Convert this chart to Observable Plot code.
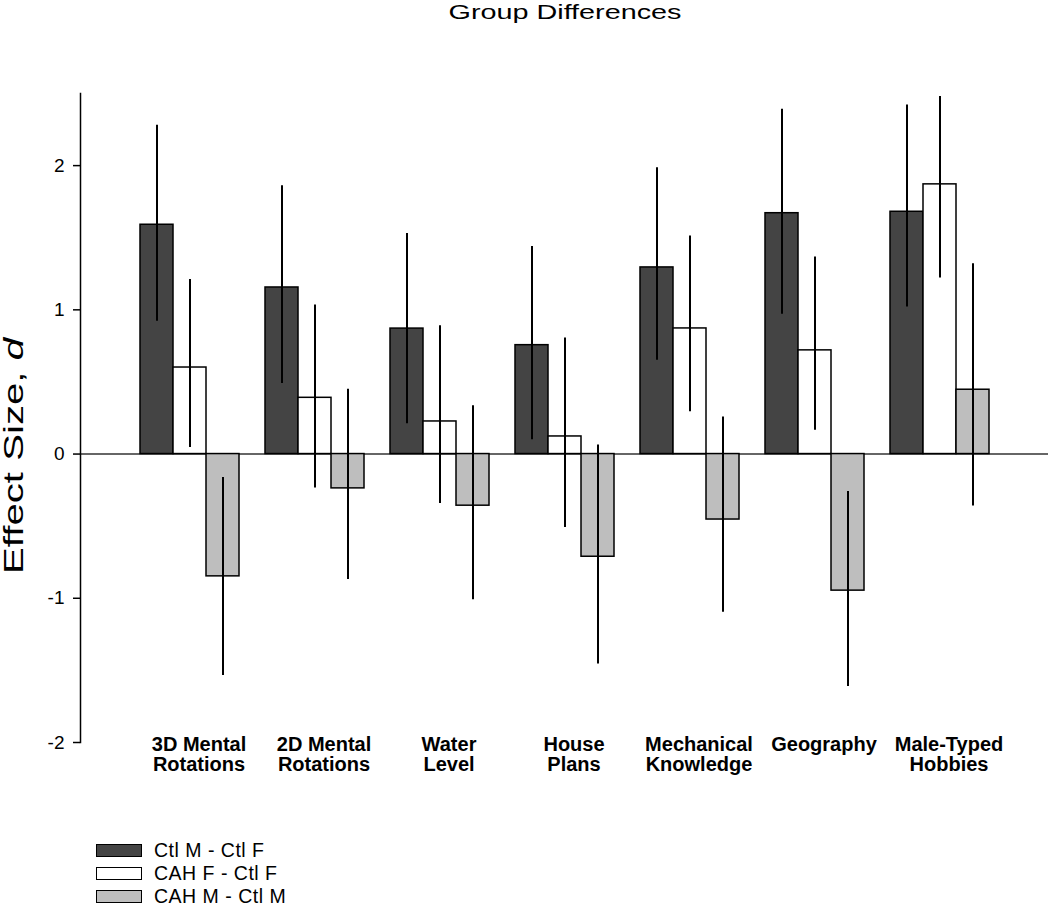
<!DOCTYPE html>
<html>
<head>
<meta charset="utf-8">
<script src="https://cdn.jsdelivr.net/npm/d3@7"></script>
<script src="https://cdn.jsdelivr.net/npm/@observablehq/plot@0.6"></script>
<style>
  body { margin: 0; background: #fff; font-family: "Liberation Sans", Arial, sans-serif; color: #000; }
  #wrap { width: 1050px; position: relative; }
  #title { height: 30px; position: relative; }
  #title span { position: absolute; left: 565px; top: 1px; font-size: 21px; line-height: 21px; white-space: nowrap;
                transform: translateX(-50%) scaleX(1.37); }
  #chart { position: relative; width: 1050px; height: 790px; }
  #chart svg { display: block; position: absolute; left: 0; top: 0; }
  #legend { padding-top: 19px; }
  .row { height: 23px; display: flex; align-items: center; }
  .sw { margin-left: 96px; width: 44px; height: 11px; border: 1.5px solid #000; }
  .lab { margin-left: 12px; font-size: 19.5px; letter-spacing: 0.5px; }
</style>
</head>
<body>
<div id="wrap">
  <div id="title"><span>Group Differences</span></div>
  <div id="chart"></div>
  <div id="legend"></div>
</div>
<script>
// ---- data ----
const categories = ["3D Mental Rotations", "2D Mental Rotations", "Water Level", "House Plans",
                    "Mechanical Knowledge", "Geography", "Male-Typed Hobbies"];
const categoryLabels = ["3D Mental\nRotations", "2D Mental\nRotations", "Water\nLevel", "House\nPlans",
                        "Mechanical\nKnowledge", "Geography", "Male-Typed\nHobbies"];
const series = ["Ctl M - Ctl F", "CAH F - Ctl F", "CAH M - Ctl M"];
const seriesColors = ["#444444", "#ffffff", "#bebebe"];

const ctlM_ctlF    = [1.59, 1.155, 0.87, 0.755, 1.294, 1.67, 1.68];
const ctlM_ctlF_lo = [0.92, 0.49, 0.21, 0.10, 0.65, 0.97, 1.02];
const ctlM_ctlF_hi = [2.28, 1.86, 1.53, 1.44, 1.985, 2.39, 2.42];

const cahF_ctlF    = [0.60, 0.39, 0.226, 0.122, 0.871, 0.719, 1.87];
const cahF_ctlF_lo = [0.046, -0.236, -0.342, -0.509, 0.293, 0.165, 1.22];
const cahF_ctlF_hi = [1.21, 1.033, 0.889, 0.804, 1.512, 1.367, 2.48];

const cahM_ctlM    = [-0.848, -0.238, -0.358, -0.712, -0.454, -0.947, 0.446];
const cahM_ctlM_lo = [-1.536, -0.87, -1.01, -1.455, -1.097, -1.612, -0.36];
const cahM_ctlM_hi = [-0.162, 0.45, 0.335, 0.062, 0.257, -0.26, 1.32];

const yTicks = [-2, -1, 0, 1, 2];
const yDomain = [-2, 2.5];
const yLabel = "Effect Size, ";
const yLabelItalic = "d";

// ---- build table ----
const values = [ctlM_ctlF, cahF_ctlF, cahM_ctlM];
const lows = [ctlM_ctlF_lo, cahF_ctlF_lo, cahM_ctlM_lo];
const highs = [ctlM_ctlF_hi, cahF_ctlF_hi, cahM_ctlM_hi];
const rows = [];
series.forEach((s, si) => categories.forEach((c, ci) => {
  rows.push({category: c, series: s, value: values[si][ci], lo: lows[si][ci], hi: highs[si][ci]});
}));
const labelOf = new Map(categories.map((c, i) => [c, categoryLabels[i]]));

const font = "'Liberation Sans', Arial, sans-serif";
const common = {
  width: 1050, height: 790,
  marginLeft: 80, marginRight: 2, marginTop: 63, marginBottom: 78,
  y: {domain: yDomain, axis: null}
};

// layer 1: y axis, axis line and zero line (not faceted)
const axisLayer = Plot.plot({
  ...common,
  style: {fontFamily: font, background: "white", color: "black", overflow: "visible"},
  marks: [
    Plot.ruleY([0], {stroke: "#333", strokeWidth: 1.5}),
    Plot.frame({anchor: "left", stroke: "black", strokeWidth: 1.5}),
    Plot.axisY(yTicks, {tickSize: 7, tickPadding: 9, fontSize: 19,
                        tickFormat: d => String(d), label: null, stroke: "black", strokeWidth: 1.5, color: "black"})
  ]
});

// layer 2: grouped bars, error bars, category labels (faceted by category)
const barLayer = Plot.plot({
  ...common,
  style: {fontFamily: font, background: "transparent", color: "black", overflow: "visible"},
  fx: {domain: categories, paddingInner: 0.196, paddingOuter: 0.458, axis: null, label: null},
  x: {domain: series, padding: 0, axis: null},
  color: {domain: series, range: seriesColors},
  marks: [
    Plot.barY(rows, {fx: "category", x: "series", y: "value", fill: "series", stroke: "black", strokeWidth: 1.5}),
    Plot.ruleX(rows, {fx: "category", x: "series", y1: "lo", y2: "hi", stroke: "black", strokeWidth: 2}),
    Plot.text(categories, {fx: d => d, text: d => labelOf.get(d), frameAnchor: "bottom", lineAnchor: "top",
                           dy: -6, dx: 9, fontSize: 20, fontWeight: "bold", lineHeight: 1, fill: "black"})
  ]
});

const chartDiv = document.getElementById("chart");
chartDiv.appendChild(axisLayer);
chartDiv.appendChild(barLayer);

// rotated y-axis title with italic d
const t = d3.select(axisLayer).append("text")
  .attr("transform", "translate(23,426) rotate(-90)")
  .attr("text-anchor", "middle")
  .attr("font-family", font)
  .attr("font-size", 28)
  .attr("fill", "black")
  .attr("textLength", 236)
  .attr("lengthAdjust", "spacingAndGlyphs");
t.append("tspan").text(yLabel);
t.append("tspan").attr("font-style", "italic").text(yLabelItalic);

// legend
const legend = d3.select("#legend");
series.forEach((s, i) => {
  const r = legend.append("div").attr("class", "row");
  r.append("div").attr("class", "sw").style("background", seriesColors[i]);
  r.append("div").attr("class", "lab").text(s);
});
</script>
</body>
</html>
